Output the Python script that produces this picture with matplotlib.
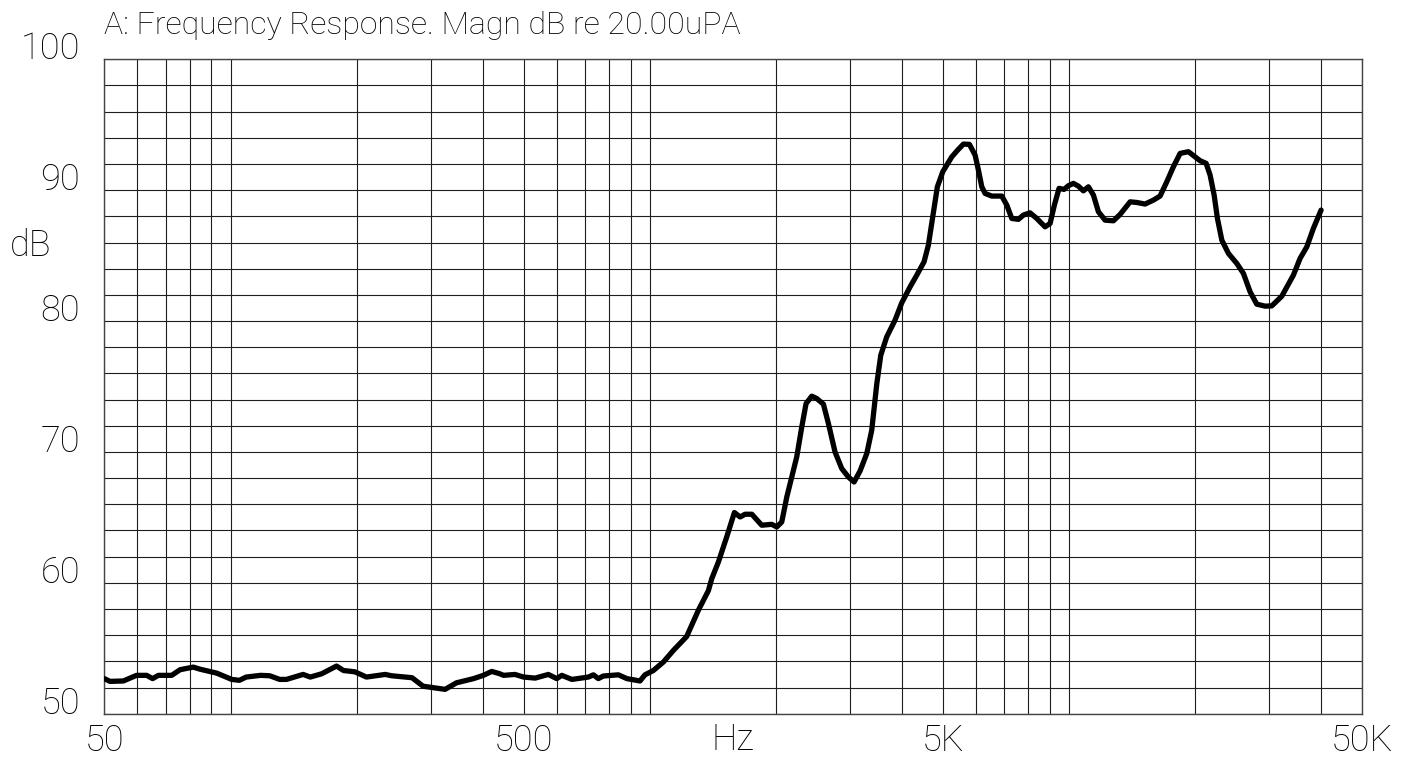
import matplotlib
matplotlib.use("Agg")
import matplotlib.pyplot as plt
from matplotlib.ticker import LogLocator, MultipleLocator, FixedLocator, NullFormatter

# ---------------- data ----------------
freq_hz = [
    50, 51.6, 55.5, 59.7, 63.1, 65.2, 67.3, 72.4, 75.8, 81.5,
    84.6, 92.7, 100.7, 105, 109, 118, 124, 131, 136, 149,
    155, 165, 179, 186, 198, 211, 234, 242, 271, 288,
    305, 325, 346, 380, 401, 420, 439, 448, 477, 500,
    533, 573, 600, 617, 652, 714, 734, 754, 775, 842,
    882, 948, 974, 1020, 1078, 1139, 1225, 1306, 1380, 1406,
    1458, 1526, 1592, 1643, 1688, 1752, 1850, 1954, 2009, 2065,
    2123, 2242, 2305, 2360, 2435, 2503, 2596, 2668, 2767, 2871,
    2977, 3072, 3175, 3294, 3385, 3480, 3557, 3675, 3847, 3991,
    4178, 4335, 4512, 4620, 4732, 4854, 5000, 5255, 5447, 5600,
    5788, 5972, 6081, 6195, 6309, 6545, 6915, 7107, 7305, 7574,
    7785, 8075, 8378, 8770, 9016, 9230, 9470, 9733, 9967, 10245,
    10530, 10825, 11126, 11437, 11756, 12196, 12765, 13243, 13992, 14514,
    15188, 15898, 16494, 17113, 17746, 18412, 19272, 19995, 20552, 21242,
    21711, 22195, 22602, 23155, 24007, 25140, 26070, 27046, 28054, 29366,
    30464, 32188, 34303, 35590, 36926, 38282, 39940,
]
level_db = [
    52.68, 52.47, 52.50, 52.93, 52.93, 52.68, 52.93, 52.93, 53.36, 53.56,
    53.40, 53.10, 52.62, 52.55, 52.80, 52.93, 52.90, 52.62, 52.62, 53.00,
    52.80, 53.05, 53.64, 53.30, 53.20, 52.80, 53.00, 52.90, 52.75, 52.10,
    51.99, 51.86, 52.36, 52.68, 52.93, 53.23, 53.05, 52.93, 53.00, 52.80,
    52.72, 53.00, 52.68, 52.93, 52.62, 52.80, 52.97, 52.68, 52.88, 52.97,
    52.68, 52.50, 52.97, 53.30, 53.95, 54.84, 55.90, 57.90, 59.40, 60.32,
    61.59, 63.50, 65.37, 65.03, 65.24, 65.24, 64.40, 64.47, 64.27, 64.65,
    66.56, 69.62, 71.91, 73.70, 74.26, 74.08, 73.65, 72.17, 70.00, 68.73,
    68.09, 67.70, 68.55, 69.88, 71.66, 75.20, 77.39, 78.79, 80.07, 81.39,
    82.61, 83.51, 84.53, 85.80, 87.97, 90.26, 91.41, 92.55, 93.12, 93.52,
    93.50, 92.68, 91.54, 90.26, 89.75, 89.55, 89.55, 88.86, 87.84, 87.77,
    88.10, 88.27, 87.84, 87.20, 87.46, 88.86, 90.14, 90.06, 90.34, 90.52,
    90.31, 89.95, 90.26, 89.63, 88.35, 87.71, 87.66, 88.15, 89.11, 89.06,
    88.94, 89.24, 89.55, 90.64, 91.79, 92.81, 92.94, 92.55, 92.25, 92.05,
    91.15, 89.63, 87.84, 86.18, 85.17, 84.40, 83.64, 82.23, 81.29, 81.14,
    81.16, 81.90, 83.51, 84.79, 85.67, 87.08, 88.48,
]

x_ticks = [50, 500, 5000, 50000]
x_tick_labels = ["50", "500", "5K", "50K"]
y_ticks = [50, 60, 70, 80, 90, 100]
y_tick_labels = ["50", "60", "70", "80", "90", "100"]
title_text = "A: Frequency Response. Magn dB re 20.00uPA"
x_unit = "Hz"
y_unit = "dB"

# ---------------- figure ----------------
W, H, DPI = 1414, 760, 100
FONT = ["Roboto", "DejaVu Sans"]
plt.rcParams["font.family"] = FONT

fig = plt.figure(figsize=(W / DPI, H / DPI), dpi=DPI, facecolor="white")
L, R, T, B = 104.3, 1362.0, 59.3, 713.7
ax = fig.add_axes([L / W, 1 - B / H, (R - L) / W, (B - T) / H])
ax.set_xscale("log")
ax.set_xlim(50, 50000)
ax.set_ylim(50, 100)

ax.plot(freq_hz, level_db, color="black", lw=3.8,
        solid_joinstyle="round", solid_capstyle="round", zorder=3)

ax.xaxis.set_major_locator(FixedLocator(x_ticks))
ax.set_xticklabels(x_tick_labels, fontsize=26, fontweight="light")
ax.xaxis.set_minor_locator(LogLocator(base=10, subs=range(1, 10), numticks=60))
ax.xaxis.set_minor_formatter(NullFormatter())
ax.set_yticks(y_ticks)
ax.set_yticklabels([])
ax.yaxis.set_minor_locator(MultipleLocator(2))
ax.grid(which="both", color="#1e1e1e", lw=0.8)
ax.set_axisbelow(True)
ax.tick_params(which="both", length=0)
ax.tick_params(axis="x", pad=7)
for s in ax.spines.values():
    s.set_color("#444444")
    s.set_linewidth(1.0)

for v, lab in zip(y_ticks, y_tick_labels):
    ax.annotate(lab, xy=(0, v), xycoords=("axes fraction", "data"),
                xytext=(-24, 10), textcoords="offset pixels",
                ha="right", va="center", fontsize=26, fontweight="light")

fig.text(104 / W, 1 - 26 / H, title_text, ha="left", va="center",
         fontsize=23, fontweight="light")
fig.text(31 / W, 1 - 246 / H, y_unit, ha="center", va="center",
         fontsize=26, fontweight="light")
fig.text(733 / W, 1 - 740 / H, x_unit, ha="center", va="center",
         fontsize=26, fontweight="light")

fig.savefig("out.png", dpi=DPI, facecolor="white")
